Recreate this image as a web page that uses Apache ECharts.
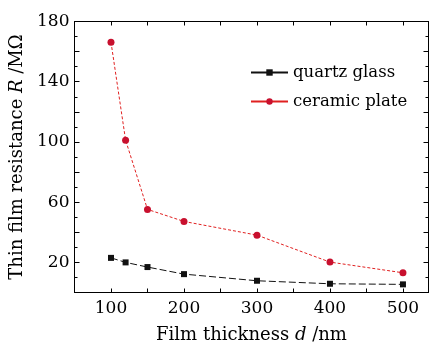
<!DOCTYPE html>
<html><head><meta charset="utf-8">
<script src="https://cdn.jsdelivr.net/npm/echarts@6/dist/echarts.min.js"></script>
<style>html,body{margin:0;padding:0;background:#fff}#c{width:438px;height:345px}</style>
</head><body><div id="c"></div>
<script>
const thickness = [100, 120, 150, 200, 300, 400, 500];
const quartzGlass = [23.0, 20.0, 16.9, 12.2, 7.8, 5.8, 5.4];
const ceramicPlate = [166.3, 101.2, 55.2, 47.2, 38.1, 20.2, 13.1];
const yLabels = [20, 60, 100, 140, 180];
const xLabels = [100, 200, 300, 400, 500];

const F = 'DejaVu Serif';
const chart = echarts.init(document.getElementById('c'));
const axisCommon = {
  axisLine: {show: true, onZero: false, lineStyle: {color: '#000', width: 1}},
  axisTick: {show: true, inside: true, length: 5, lineStyle: {color: '#000'}},
  minorTick: {show: true, splitNumber: 2, length: 3, lineStyle: {color: '#000'}},
  splitLine: {show: false}
};
const nameRich = {n: {fontFamily: F, fontSize: 18, color: '#000'}, i: {fontFamily: F, fontStyle: 'italic', fontSize: 18, color: '#000'}};
chart.setOption({
  animation: false,
  grid: {left: 74.5, right: 9.5, top: 21.5, bottom: 52.5, containLabel: false, outerBoundsMode: 'none'},
  legend: {
    left: 245, top: 59, orient: 'vertical', itemGap: 12, itemWidth: 37, itemHeight: 8,
    textStyle: {fontFamily: F, fontSize: 16.5, color: '#000'},
    lineStyle: {type: 'solid'},
    data: ['quartz glass', 'ceramic plate']
  },
  xAxis: [{
    type: 'value', min: 50, max: 535, interval: 50, position: 'bottom',
    ...axisCommon,
    axisLabel: {fontFamily: F, fontSize: 17, color: '#000', margin: 8,
      formatter: v => xLabels.includes(v) ? String(v) : ''},
    axisTick: {show: true, inside: true, length: 4, lineStyle: {color: '#000'}},
    minorTick: {show: false},
    name: '{n|Film thickness }{i|d}{n| /nm}', nameLocation: 'middle', nameGap: 34,
    nameTextStyle: {rich: nameRich}
  }, {
    type: 'value', min: 50, max: 535, interval: 50, position: 'top',
    ...axisCommon,
    axisTick: {show: true, inside: true, length: 4, lineStyle: {color: '#000'}},
    minorTick: {show: false},
    axisLabel: {show: false}
  }],
  yAxis: [{
    type: 'value', min: 0, max: 180, interval: 20, position: 'left',
    ...axisCommon,
    axisLabel: {fontFamily: F, fontSize: 17, color: '#000', margin: 5,
      formatter: v => yLabels.includes(v) ? String(v) : ''},
    name: '{n|Thin film resistance }{i|R}{n| /MΩ}', nameLocation: 'middle', nameGap: 47,
    nameTextStyle: {rich: nameRich}
  }, {
    type: 'value', min: 0, max: 180, interval: 20, position: 'right',
    ...axisCommon,
    axisLabel: {show: false}
  }],
  series: [{
    name: 'quartz glass', type: 'line',
    data: thickness.map((x, i) => [x, quartzGlass[i]]),
    symbol: 'rect', symbolSize: 6,
    itemStyle: {color: '#111'},
    lineStyle: {color: '#111', width: 1, type: [7, 3]}
  }, {
    name: 'ceramic plate', type: 'line',
    data: thickness.map((x, i) => [x, ceramicPlate[i]]),
    symbol: 'circle', symbolSize: 7,
    itemStyle: {color: '#c8102e'},
    lineStyle: {color: '#e02020', width: 1, type: [3, 2]}
  }]
});
</script></body></html>
